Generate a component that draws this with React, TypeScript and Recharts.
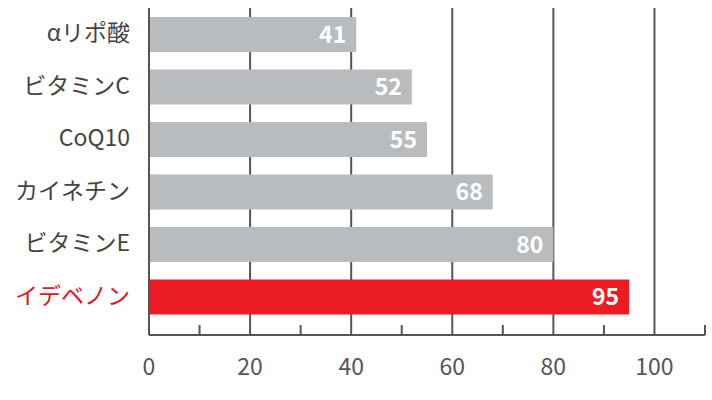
import React from 'react'
import { BarChart, Bar, XAxis, YAxis, CartesianGrid, Cell, LabelList } from 'recharts'

const names = ['αリポ酸', 'ビタミンC', 'CoQ10', 'カイネチン', 'ビタミンE', 'イデベノン']
const scores = [41, 52, 55, 68, 80, 95]
const highlight = 'イデベノン'
const xTicks = [0, 10, 20, 30, 40, 50, 60, 70, 80, 90, 100, 110]
const gridValues = [20, 40, 60, 80, 100]

const data = names.map((name, i) => ({ name, value: scores[i] }))

const FONT = '"Noto Sans CJK JP", "Noto Sans", sans-serif'
const AXIS = '#555'

const CategoryTick = (props: any) => {
  const { x, y, payload } = props
  const isHi = payload.value === highlight
  return (
    <text
      x={x}
      y={y}
      dy={7}
      textAnchor="end"
      fontSize={23}
      fontFamily={FONT}
      fill={isHi ? '#e5141d' : '#444'}
    >
      {payload.value}
    </text>
  )
}

const ValueTick = (props: any) => {
  const { x, y, payload } = props
  const v = payload.value
  return (
    <g>
      {v > 0 && v % 20 !== 0 && <line x1={x} y1={y} x2={x} y2={y - 10} stroke={AXIS} strokeWidth={2} />}
      {v % 20 === 0 && v <= 100 && (
        <text x={x} y={y + 40} textAnchor="middle" fontSize={23} fontFamily={FONT} fill="#555">
          {v}
        </text>
      )}
    </g>
  )
}

export default function App() {
  return (
    <div style={{ position: 'absolute', left: 0, top: 0, width: 712, height: 400, background: '#fff' }}>
      <BarChart
        width={712}
        height={400}
        data={data}
        layout="vertical"
        margin={{ top: 8, right: 7, left: 0, bottom: 0 }}
      >
        <CartesianGrid horizontal={false} verticalValues={gridValues} stroke={AXIS} strokeWidth={2} />
        <XAxis
          type="number"
          domain={[0, 110]}
          ticks={xTicks}
          interval={0}
          tickLine={false}
          tickSize={0}
          tickMargin={0}
          height={65}
          axisLine={{ stroke: AXIS, strokeWidth: 2 }}
          tick={<ValueTick />}
        />
        <YAxis
          type="category"
          dataKey="name"
          width={149}
          padding={{ top: 0, bottom: 12 }}
          tickLine={false}
          tickSize={0}
          tickMargin={19}
          axisLine={{ stroke: AXIS, strokeWidth: 2 }}
          tick={<CategoryTick />}
          interval={0}
        />
        <Bar dataKey="value" barSize={35} isAnimationActive={false}>
          {data.map((d) => (
            <Cell key={d.name} fill={d.name === highlight ? '#ec1c24' : '#b9bcbf'} />
          ))}
          <LabelList
            dataKey="value"
            position="insideRight"
            offset={10}
            fill="#fff"
            fontSize={23}
            fontWeight="bold"
            fontFamily={FONT}
          />
        </Bar>
      </BarChart>
    </div>
  )
}
